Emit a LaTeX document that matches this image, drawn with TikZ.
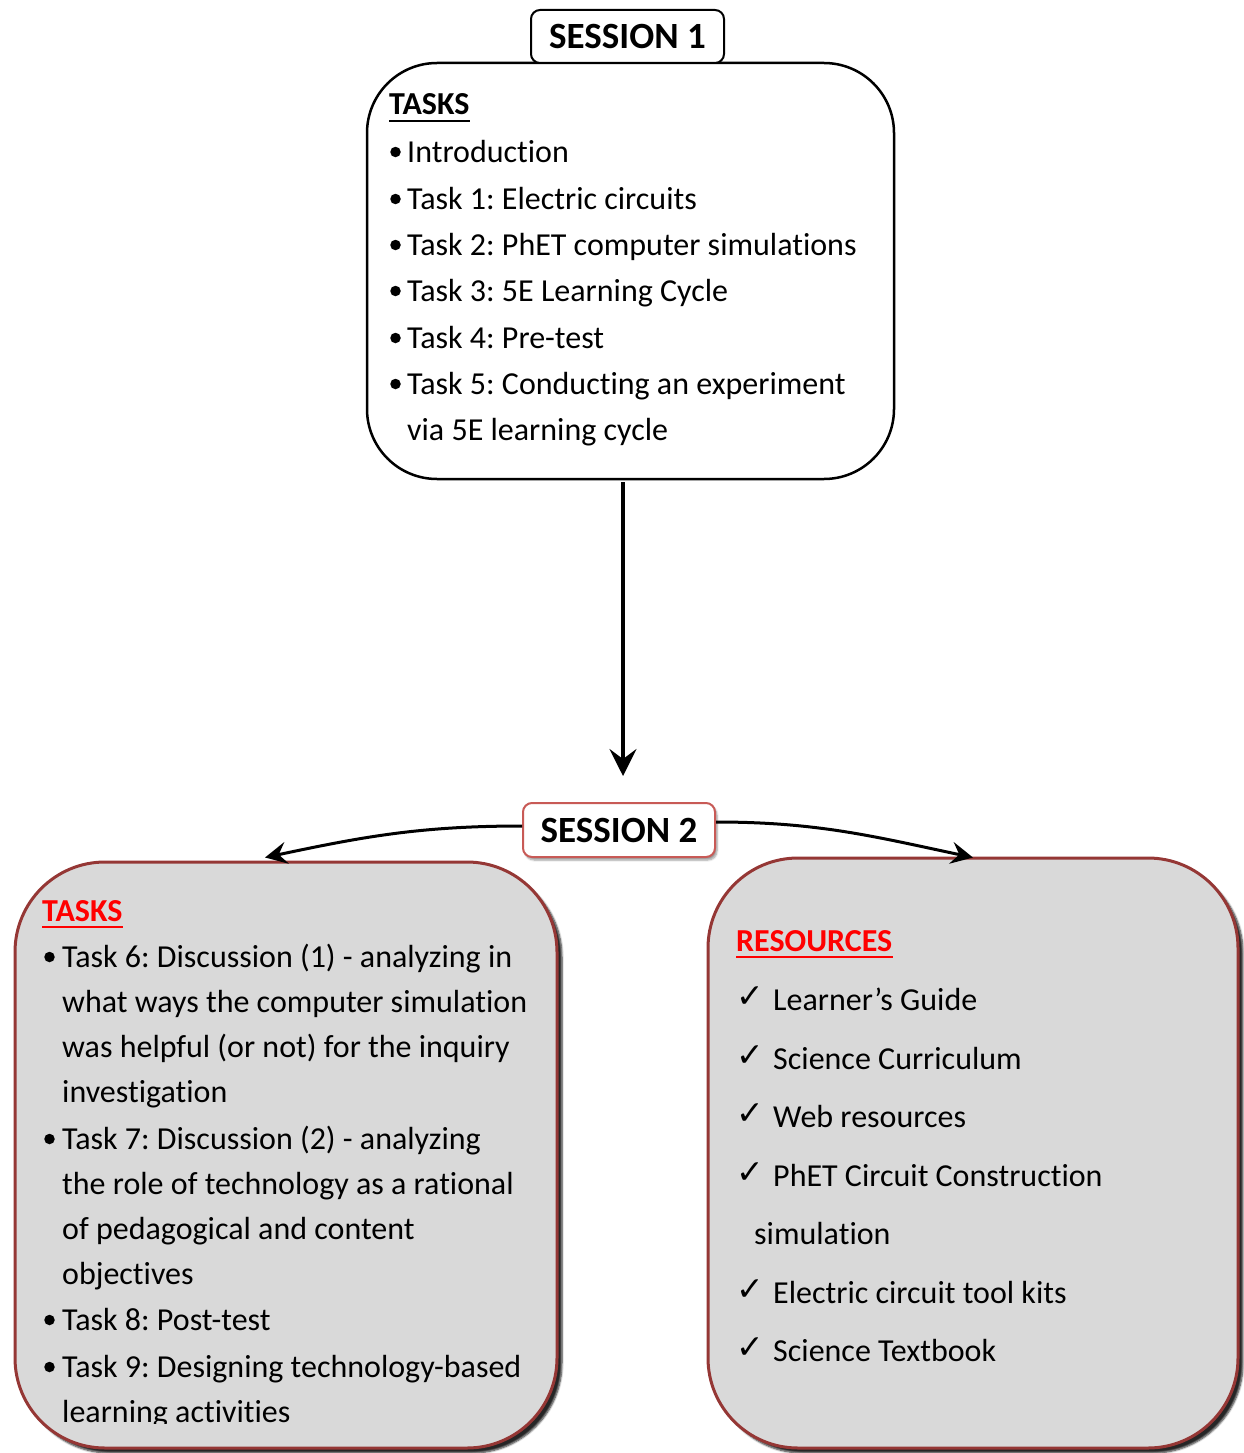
\documentclass[tikz,border=0pt]{standalone}
\usepackage{fontspec}
\setmainfont{Carlito}[Ligatures={NoCommon}]
\newfontfamily\symfont{DejaVu Sans}
\usetikzlibrary{arrows.meta,shadows.blur,calc}
\definecolor{boxred}{RGB}{149,55,53}
\definecolor{boxgray}{RGB}{217,217,217}
\definecolor{tagred}{RGB}{200,90,86}
\definecolor{headred}{RGB}{255,0,0}
\frenchspacing

\begin{document}
\begin{tikzpicture}[x=1pt,y=-1pt,
  txt/.style={anchor=base west, inner sep=0pt, font=\fontsize{32}{38}\selectfont},
  head/.style={anchor=base west, inner sep=0pt, font=\fontsize{32}{38}\selectfont\bfseries},
  bul/.style={circle, fill=black, inner sep=0pt, minimum size=10.5pt},
  chk/.style={anchor=base west, inner sep=0pt, font=\fontsize{33}{38}\symfont},
  tag/.style={draw, line width=2pt, rounded corners=9pt, fill=white, inner sep=0pt,
    font=\fontsize{37}{44}\selectfont\bfseries},
  bigbox/.style={draw=boxred, line width=3pt, fill=boxgray, rounded corners=90pt, inner sep=0pt,
    blur shadow={shadow xshift=5pt, shadow yshift=-5pt, shadow blur steps=6, shadow opacity=85}},
  conn/.style={line width=3.5pt, -{Stealth[length=27pt,width=27pt,inset=10pt]}},
  curvconn/.style={line width=3pt, -{Stealth[length=22pt,width=22pt,inset=8pt]}},
]
\useasboundingbox (0,0) rectangle (1244,1453);

% ---- Session 1 ----
\node[draw, line width=2.5pt, rounded corners=70pt, fill=white, minimum width=527pt,
  minimum height=416pt, inner sep=0pt] (box1) at (630.5,271) {};
\node[tag, minimum width=193pt, minimum height=53pt] (s1) at (627.5,36.5) {SESSION 1};

\node[head] (h1) at (389,115) {TASKS};
\draw[line width=2.5pt] ([yshift=-6pt]h1.base west) -- ([yshift=-6pt]h1.base east);

\foreach \n/\yy/\t in {1/162/Introduction,
                       2/209/Task 1: Electric circuits,
                       3/255/Task 2: PhET computer simulations,
                       4/301/Task 3: 5E Learning Cycle,
                       5/348/Task 4: Pre-test,
                       6/394/Task 5: Conducting an experiment}{
  \node[bul] (b1bul\n) at (395.5,\yy-10) {};
  \node[txt] (b1txt\n) at (407,\yy) {\t};
}
\node[txt] (b1txt7) at (407,440) {via 5E learning cycle};

% ---- arrow between sessions ----
\coordinate (a1s) at ($(box1.south)+(-7.5,2)$);
\coordinate (a1e) at (623,776);
\draw[conn] (a1s) -- (a1e);

% ---- Session 2 boxes ----
\node[bigbox, minimum width=542pt, minimum height=586pt] (lbox) at (286,1155) {};
\node[bigbox, minimum width=530pt, minimum height=590pt] (rbox) at (973,1153) {};

\node[tag, draw=tagred, minimum width=192pt, minimum height=54pt,
  blur shadow={shadow xshift=2pt, shadow yshift=-3pt, shadow blur steps=5, shadow opacity=40}]
  (s2) at (619,830) {SESSION 2};

\coordinate (lend) at ($(lbox.north)+(-21,-3)$);
\coordinate (rend) at ($(rbox.north)+(0,1)$);
\draw[curvconn] ([yshift=4pt]s2.west) to[out=180, in=12] (lend);
\draw[curvconn] ([yshift=8pt]s2.east) to[out=0, in=168] (rend);

% ---- left box: tasks ----
\node[head, text=headred] (h2) at (42,921) {TASKS};
\draw[headred, line width=2.5pt] ([yshift=-6pt]h2.base west) -- ([yshift=-6pt]h2.base east);

\begin{scope}
\clip (0,0) rectangle (1244,1423);
\node[bul] (lbul6) at (49.5,957) {};
\node[txt] (lt1) at (62,967) {Task 6: Discussion (1) - analyzing in};
\node[txt] (lt2) at (62,1012) {what ways the computer simulation};
\node[txt] (lt3) at (62,1057) {was helpful (or not) for the inquiry};
\node[txt] (lt4) at (62,1102) {investigation};
\node[bul] (lbul7) at (49.5,1139) {};
\node[txt] (lt5) at (62,1149) {Task 7: Discussion (2) - analyzing};
\node[txt] (lt6) at (62,1194) {the role of technology as a rational};
\node[txt] (lt7) at (62,1239) {of pedagogical and content};
\node[txt] (lt8) at (62,1284) {objectives};
\node[bul] (lbul8) at (49.5,1320) {};
\node[txt] (lt9) at (62,1330) {Task 8: Post-test};
\node[bul] (lbul9) at (49.5,1367) {};
\node[txt] (lt10) at (62,1377) {Task 9: Designing technology-based};
\node[txt] (lt11) at (62,1422) {learning activities};
\end{scope}

% ---- right box: resources ----
\node[head, text=headred] (h3) at (736,951) {RESOURCES};
\draw[headred, line width=2.5pt] ([yshift=-6pt]h3.base west) -- ([yshift=-6pt]h3.base east);

\foreach \n/\yy/\t in {1/1010/Learner’s Guide,
                       2/1069/Science Curriculum,
                       3/1127/Web resources,
                       4/1186/PhET Circuit Construction,
                       5/1303/Electric circuit tool kits,
                       6/1361/Science Textbook}{
  \node[chk] (rchk\n) at (736,\yy-3) {✓};
  \node[txt] (rt\n) at (773,\yy) {\t};
}
\node[txt] (rt7) at (754,1244) {simulation};

\end{tikzpicture}
\end{document}
